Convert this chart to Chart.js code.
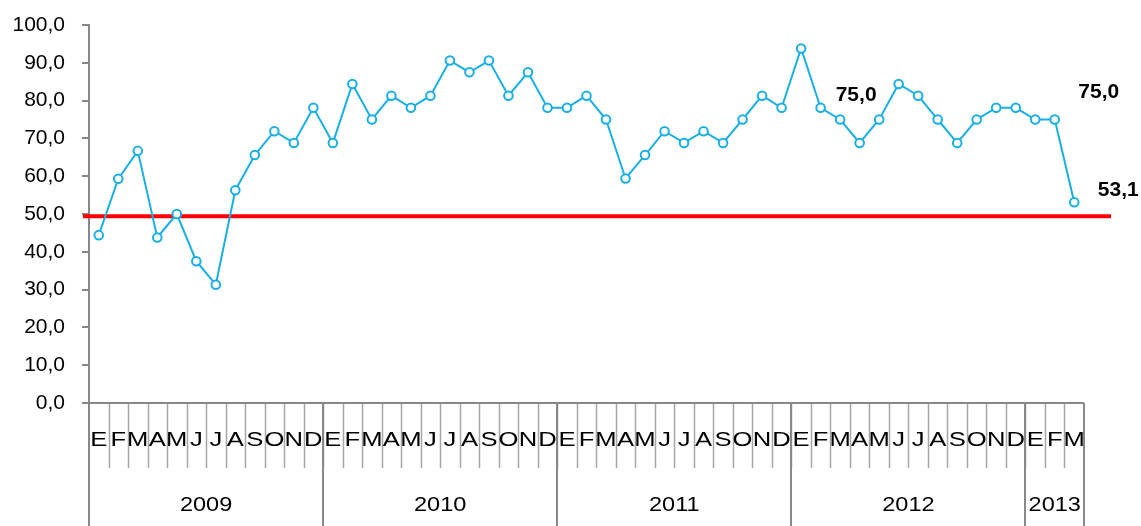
<!DOCTYPE html>
<html>
<head>
<meta charset="utf-8">
<script src="https://cdn.jsdelivr.net/npm/chart.js@4.4.0/dist/chart.umd.min.js"></script>
<style>
  html, body { margin: 0; padding: 0; background: #fff; }
  #wrap { width: 1141px; height: 526px; }
</style>
</head>
<body>
<div id="wrap"><canvas id="chart" width="1141" height="526"></canvas></div>
<script>
// months (Spanish initials), one per point
const months = [
    "E","F","M","A","M","J","J","A","S","O","N","D",
    "E","F","M","A","M","J","J","A","S","O","N","D",
    "E","F","M","A","M","J","J","A","S","O","N","D",
    "E","F","M","A","M","J","J","A","S","O","N","D",
    "E","F","M"
];
const years = ["2009", "2010", "2011", "2012", "2013"];
const yearSpans = [12, 12, 12, 12, 3];

const values = [
    44.4, 59.3, 66.7, 43.8, 50.0, 37.5, 31.3, 56.3, 65.6, 71.9, 68.8, 78.1,
    68.8, 84.4, 75.0, 81.3, 78.1, 81.3, 90.6, 87.5, 90.6, 81.3, 87.5, 78.1,
    78.1, 81.3, 75.0, 59.4, 65.6, 71.9, 68.8, 71.9, 68.8, 75.0, 81.3, 78.1,
    93.8, 78.1, 75.0, 68.8, 75.0, 84.4, 81.3, 75.0, 68.8, 75.0, 78.1, 78.1,
    75.0, 75.0, 53.1
];
const refLevel = 49.4;
// points that carry a value label
const labelled = [38, 49, 50];

const yTicks = [0, 10, 20, 30, 40, 50, 60, 70, 80, 90, 100];

function fmt(v) {
    return v.toFixed(1).replace(".", ",");
}

const AXIS = "#888888";
const FONT = "'Liberation Sans', Arial, sans-serif";

// draws the two level category axis, the red reference line and the value labels
const extras = {
    id: "extras",
    beforeDatasetsDraw(chart) {
        const ctx = chart.ctx;
        const y = chart.scales.y;
        const ry = y.getPixelForValue(refLevel);
        ctx.save();
        ctx.strokeStyle = "#ff0000";
        ctx.lineWidth = 4;
        ctx.beginPath();
        ctx.moveTo(chart.chartArea.left - 6, ry);
        ctx.lineTo(chart.chartArea.right + 27, ry);
        ctx.stroke();
        ctx.restore();
    },
    afterDraw(chart) {
        const ctx = chart.ctx;
        const x = chart.scales.x;
        const y = chart.scales.y;
        const area = chart.chartArea;
        const base = area.bottom;
        ctx.save();

        // month separators
        ctx.strokeStyle = "#a6a6a6";
        ctx.lineWidth = 1.5;
        for (let i = 1; i < months.length; i++) {
            const bx = Math.round(x.getPixelForValue(i - 0.5)) + 0.5;
            ctx.beginPath();
            ctx.moveTo(bx, base);
            ctx.lineTo(bx, base + 65);
            ctx.stroke();
        }

        // year separators
        ctx.strokeStyle = AXIS;
        ctx.lineWidth = 2;
        let start = 0;
        const bounds = [start];
        for (let k = 0; k < yearSpans.length; k++) {
            start += yearSpans[k];
            bounds.push(start);
        }
        bounds.forEach(function (b) {
            const bx = Math.round(x.getPixelForValue(b - 0.5));
            ctx.beginPath();
            ctx.moveTo(bx, base);
            ctx.lineTo(bx, chart.height);
            ctx.stroke();
        });

        // x axis line
        ctx.beginPath();
        ctx.moveTo(area.left - 7, base);
        ctx.lineTo(x.getPixelForValue(months.length - 0.5), base);
        ctx.stroke();

        // month letters
        ctx.fillStyle = "#000";
        ctx.font = "21px " + FONT;
        ctx.textAlign = "center";
        ctx.textBaseline = "middle";
        months.forEach(function (m, i) {
            ctx.save();
            ctx.translate(x.getPixelForValue(i), base + 37);
            ctx.scale(1.22, 1);
            ctx.fillText(m, 0, 0);
            ctx.restore();
        });

        // year labels
        years.forEach(function (yr, k) {
            const cx = (x.getPixelForValue(bounds[k] - 0.5) + x.getPixelForValue(bounds[k + 1] - 0.5)) / 2;
            ctx.save();
            ctx.translate(cx, base + 102);
            ctx.scale(1.12, 1);
            ctx.fillText(yr, 0, 0);
            ctx.restore();
        });

        // value labels
        const offsets = { 38: [16, -24], 49: [44, -27], 50: [44, -12] };
        ctx.font = "bold 21px " + FONT;
        labelled.forEach(function (i) {
            const px = x.getPixelForValue(i) + offsets[i][0];
            const py = y.getPixelForValue(values[i]) + offsets[i][1];
            ctx.fillText(fmt(values[i]), px, py);
        });
        ctx.restore();
    }
};

window.addEventListener("load", function () {
    const chartCanvas = document.getElementById("chart");
    chart = new Chart(chartCanvas, {
        type: "line",
        data: {
            labels: months,
            datasets: [
                {
                    data: values,
                    borderColor: "#1aafe6",
                    borderWidth: 2,
                    pointRadius: 4.3,
                    pointBorderWidth: 2,
                    pointBackgroundColor: "#ffffff",
                    pointBorderColor: "#1aafe6",
                    tension: 0,
                    fill: false,
                },
            ],
        },
        options: {
            responsive: false,
            animation: false,
            layout: {
                padding: { top: 25, right: 57, bottom: 123, left: 0 },
            },
            plugins: {
                legend: { display: false },
                tooltip: { enabled: false },
            },
            scales: {
                x: {
                    display: false,
                    offset: true,
                },
                y: {
                    min: 0,
                    max: 100,
                    afterFit: function (s) {
                        s.width = 89;
                        s.paddingTop = 0;
                        s.paddingBottom = 0;
                    },
                    afterBuildTicks: function (s) {
                        s.ticks = yTicks.map(function (v) { return { value: v }; });
                    },
                    border: { color: AXIS, width: 2 },
                    grid: {
                        drawOnChartArea: false,
                        color: AXIS,
                        lineWidth: 2,
                        tickLength: 7,
                    },
                    ticks: {
                        color: "#000",
                        padding: 17,
                        font: { family: FONT, size: 21 },
                        callback: function (v) { return fmt(v); },
                    },
                },
            },
        },
        plugins: [extras],
    });
});
</script>
</body>
</html>
